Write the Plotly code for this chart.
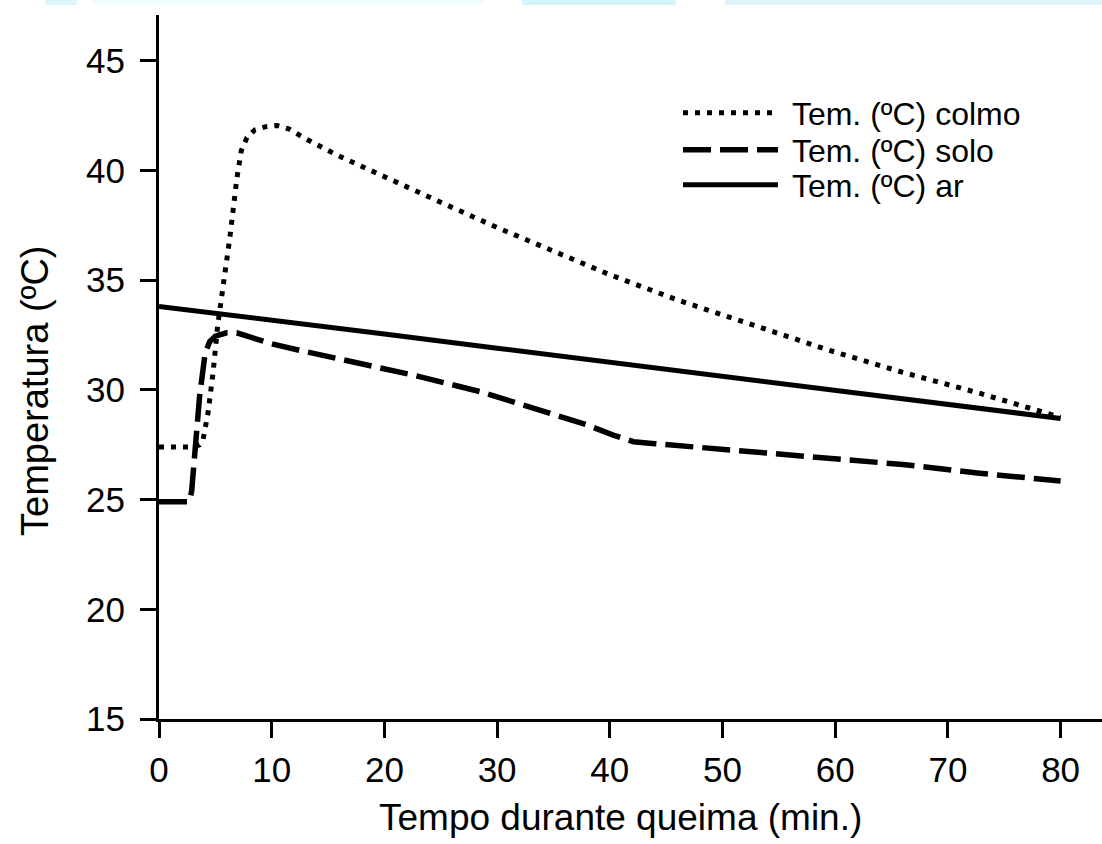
import plotly.graph_objects as go

# ---- data ----
t_colmo = [0, 1, 2, 3, 3.6, 3.9, 4.35, 4.8, 5.2, 5.7, 6.3, 6.9, 7.3, 7.8, 8.5, 9.5, 10.5,
           11.5, 13, 15.8, 19.6, 25, 30, 35, 40, 46, 53, 59.5, 66, 72.8, 80]
y_colmo = [27.4, 27.4, 27.4, 27.4, 27.5, 27.7, 28.95, 30.8, 32.9, 34.7, 37.0, 39.6, 40.9, 41.5,
           41.85, 42.0, 42.05, 41.9, 41.45, 40.7, 39.8, 38.55, 37.4, 36.3, 35.25, 34.1, 32.9,
           31.8, 30.8, 29.85, 28.75]

t_solo = [0, 2.7, 2.9, 3.2, 3.6, 4.1, 4.5, 5.0, 6, 6.9, 8, 10, 12.5, 15.2, 18, 22.5, 28.5,
          34.4, 38, 40.3, 42.1, 44, 47.1, 55, 59.5, 66, 72.8, 80]
y_solo = [24.9, 24.9, 25.4, 27.4, 29.7, 31.7, 32.2, 32.45, 32.6, 32.6, 32.4, 32.1, 31.8, 31.5,
          31.15, 30.68, 29.92, 29.0, 28.4, 27.94, 27.64, 27.55, 27.41, 27.09, 26.88, 26.6,
          26.2, 25.85]

t_ar = [0, 10, 20, 30, 40, 50, 60, 70, 80]
y_ar = [33.8, 33.2, 32.55, 31.9, 31.25, 30.6, 30.0, 29.35, 28.7]

names = ["Tem. (\u00baC) colmo", "Tem. (\u00baC) solo", "Tem. (\u00baC) ar"]
x_ticks = [0, 10, 20, 30, 40, 50, 60, 70, 80]
y_ticks = [15, 20, 25, 30, 35, 40, 45]
x_title = "Tempo durante queima (min.)"
y_title = "Temperatura (\u00baC)"

FONT = "Liberation Sans, Arial, Helvetica, sans-serif"
NB = "\u00a0"

fig = go.Figure()
fig.add_trace(go.Scatter(x=t_colmo, y=y_colmo, mode="lines", name=NB + names[0],
                         line=dict(color="black", width=5, dash="5px,7px"),
                         legend="legend"))
fig.add_trace(go.Scatter(x=t_solo, y=y_solo, mode="lines", name=NB + names[1],
                         line=dict(color="black", width=5.5, dash="28px,9px"),
                         legend="legend2"))
fig.add_trace(go.Scatter(x=t_ar, y=y_ar, mode="lines", name=NB + names[2],
                         line=dict(color="black", width=5),
                         legend="legend3"))

L, R, T, B = 159, 0, 15, 125
W, H = 1102, 844
pw, ph = W - L - R, H - T - B


def px_x(p):
    return (p - L) / pw


def px_y(p):
    return (H - B - p) / ph


leg_common = dict(xanchor="left", yanchor="middle", bgcolor="rgba(0,0,0,0)",
                  font=dict(family=FONT, size=32, color="black"), itemwidth=95,
                  borderwidth=0)

fig.update_layout(
    width=W, height=H,
    margin=dict(l=L, r=R, t=T, b=B, pad=0),
    paper_bgcolor="white", plot_bgcolor="white",
    showlegend=True,
    legend=dict(x=px_x(678), y=px_y(113), **leg_common),
    legend2=dict(x=px_x(678), y=px_y(150), **leg_common),
    legend3=dict(x=px_x(678), y=px_y(185), **leg_common),
    xaxis=dict(range=[0, pw / 11.27], tickvals=x_ticks, ticktext=[str(v) for v in x_ticks],
               showline=True, linewidth=3, linecolor="black", ticks="outside",
               ticklen=16, tickwidth=3, tickcolor="black", showgrid=False, zeroline=False,
               ticklabelstandoff=2,
               tickfont=dict(family=FONT, size=35, color="black")),
    yaxis=dict(range=[15, 15 + ph / 21.94], tickvals=y_ticks, ticktext=[str(v) for v in y_ticks],
               showline=True, linewidth=3, linecolor="black", ticks="outside",
               ticklen=16, tickwidth=3, tickcolor="black", showgrid=False, zeroline=False,
               ticklabelstandoff=8,
               tickfont=dict(family=FONT, size=35, color="black")),
    annotations=[
        dict(text=x_title, xref="paper", yref="paper", x=px_x(620), y=px_y(817),
             xanchor="center", yanchor="middle", showarrow=False,
             font=dict(family=FONT, size=37, color="black")),
        dict(text=y_title, xref="paper", yref="paper", x=px_x(35), y=px_y(391),
             xanchor="center", yanchor="middle", showarrow=False, textangle=-90,
             font=dict(family=FONT, size=38, color="black")),
    ],
)

# faint cyan strip along the very top of the scanned image
bands = [(45, 77, "#dcf7fb"), (91, 484, "#f1fcfd"), (522, 676, "#d2f6fb"), (725, 1102, "#dcf3fb")]
for x0, x1, c in bands:
    fig.add_shape(type="rect", xref="paper", yref="paper", x0=px_x(x0), x1=px_x(x1),
                  y0=px_y(5), y1=px_y(0), fillcolor=c, line=dict(width=0), layer="below")

fig.write_html("out.html", config={"displayModeBar": False},
               post_script="document.body.style.margin='0';document.body.style.overflow='hidden';")
